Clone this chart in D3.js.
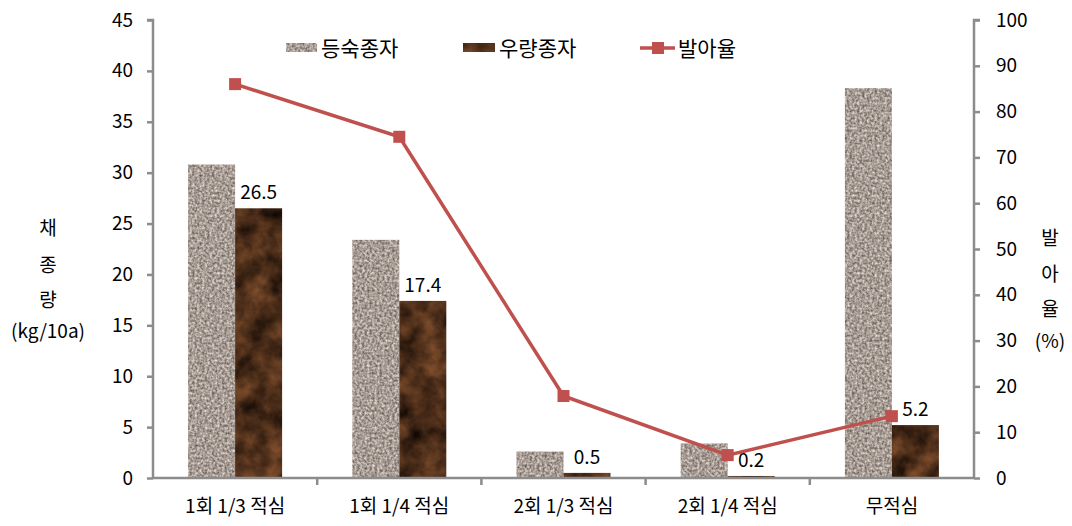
<!DOCTYPE html>
<html><head><meta charset="utf-8">
<script src="https://d3js.org/d3.v7.min.js"></script>
<style>
body{margin:0;background:#fff;}
text{font-family:"Noto Sans CJK KR","Noto Sans",sans-serif;fill:#000;}
</style></head>
<body>
<svg id="c" width="1072" height="526"></svg>
<script>
const categories = ["1회 1/3 적심","1회 1/4 적심","2회 1/3 적심","2회 1/4 적심","무적심"];
const ripeSeed = [30.8, 23.4, 2.6, 3.4, 38.3];      // 등숙종자
const goodSeed = [26.5, 17.4, 0.5, 0.2, 5.2];       // 우량종자
const germRate = [86.0, 74.5, 17.9, 5.0, 13.5];     // 발아율
const leftTicks = [0,5,10,15,20,25,30,35,40,45];
const rightTicks = [0,10,20,30,40,50,60,70,80,90,100];
const seriesNames = ["등숙종자","우량종자","발아율"];

const svg = d3.select("#c");
const m = {l:153, r:974, t:20, b:478};
const defs = svg.append("defs");

function texture(id, freq, oct, seed, matrix){
  const f = defs.append("filter").attr("id",id).attr("x",0).attr("y",0).attr("width",1).attr("height",1)
    .attr("color-interpolation-filters","sRGB");
  f.append("feTurbulence").attr("type","fractalNoise").attr("baseFrequency",freq).attr("numOctaves",oct).attr("seed",seed).attr("result","n");
  f.append("feColorMatrix").attr("in","n").attr("type","matrix").attr("values",matrix).attr("result","c");
  f.append("feComposite").attr("in","c").attr("in2","SourceGraphic").attr("operator","in");
}
texture("granite", 0.4, 2, 3,
  "0.75 0 0 0 0.28  0.75 0 0 0 0.24  0.75 0 0 0 0.21  0 0 0 0 1");
texture("marble", 0.045, 4, 7,
  "0.6 0 0 0 0.0  0.38 0 0 0 -0.01  0.22 0 0 0 -0.01  0 0 0 0 1");

const x0 = d3.scaleBand().domain(categories).range([m.l, m.r]);
const x1 = d3.scaleBand().domain([0,1]).range([0, 94]);
const yL = d3.scaleLinear().domain([0,45]).range([m.b, m.t]);
const yR = d3.scaleLinear().domain([0,100]).range([m.b, m.t]);
const grey = "#8c8c8c";
const fs = 19;

const g = svg.append("g");
categories.forEach((c,i)=>{
  const cx = x0(c) + x0.bandwidth()/2 - 47;
  [[ripeSeed[i],"granite","#a39690"],[goodSeed[i],"marble","#4a2c18"]].forEach((d,j)=>{
    g.append("rect").attr("x", cx + x1(j)).attr("width", x1.bandwidth())
      .attr("y", yL(d[0])).attr("height", yL(0)-yL(d[0]))
      .attr("fill", d[2]).attr("filter", `url(#${d[1]})`);
  });
  g.append("text").attr("x", cx + x1(1) + x1.bandwidth()/2).attr("y", yL(goodSeed[i]) - 9)
    .attr("text-anchor","middle").attr("font-size",fs).text(goodSeed[i]);
});

const axL = svg.append("g").attr("transform",`translate(${m.l},0)`)
  .call(d3.axisLeft(yL).tickValues(leftTicks).tickSize(6).tickPadding(14));
const axR = svg.append("g").attr("transform",`translate(${m.r},0)`)
  .call(d3.axisRight(yR).tickValues(rightTicks).tickSize(6).tickPadding(16));
const axB = svg.append("g").attr("transform",`translate(0,${m.b})`)
  .call(d3.axisBottom(x0).tickSize(0).tickPadding(22));
[axL,axR,axB].forEach(a=>{
  a.select(".domain").attr("stroke",grey).attr("stroke-width",2.5);
  a.selectAll(".tick line").attr("stroke",grey).attr("stroke-width",2.5);
  a.selectAll("text").attr("font-size",fs).attr("font-family",'"Noto Sans CJK KR",sans-serif').attr("fill","#000");
});
axL.select(".domain").attr("d",`M-6,${m.t}H0V${m.b}`);
axR.select(".domain").attr("d",`M6,${m.t}H0V${m.b}`);
axB.select(".domain").attr("d",`M${m.l},0H${m.r}`);
categories.slice(1).forEach(c=>{
  axB.append("line").attr("x1",x0(c)).attr("x2",x0(c)).attr("y1",0).attr("y2",7)
    .attr("stroke",grey).attr("stroke-width",2.5);
});

const red = "#c0504d";
const cxs = categories.map(c=>x0(c)+x0.bandwidth()/2);
const line = d3.line().x((d,i)=>cxs[i]).y(d=>yR(d));
svg.append("path").datum(germRate).attr("d",line).attr("fill","none").attr("stroke",red).attr("stroke-width",3.5);
svg.selectAll(".mk").data(germRate).enter().append("rect")
  .attr("x",(d,i)=>cxs[i]-6).attr("y",d=>yR(d)-6).attr("width",12).attr("height",12).attr("fill",red);

const lg = svg.append("g");
lg.append("rect").attr("x",286).attr("y",43).attr("width",31).attr("height",9).attr("fill","#a39690").attr("filter","url(#granite)");
lg.append("text").attr("x",321).attr("y",56).attr("font-size",21).text(seriesNames[0]);
lg.append("rect").attr("x",463).attr("y",43).attr("width",32).attr("height",9).attr("fill","#4a2c18").attr("filter","url(#marble)");
lg.append("text").attr("x",499).attr("y",56).attr("font-size",21).text(seriesNames[1]);
lg.append("line").attr("x1",640).attr("x2",675).attr("y1",48).attr("y2",48).attr("stroke",red).attr("stroke-width",3.5);
lg.append("rect").attr("x",652).attr("y",42).attr("width",12).attr("height",12).attr("fill",red);
lg.append("text").attr("x",678).attr("y",56).attr("font-size",21).text(seriesNames[2]);

[["채",230],["종",267],["량",302],["(kg/10a)",333]].forEach(d=>{
  svg.append("text").attr("x",48).attr("y",d[1]).attr("text-anchor","middle").attr("dominant-baseline","middle").attr("font-size",fs).text(d[0]);
});
[["발",240],["아",276],["율",311],["(%)",343]].forEach(d=>{
  svg.append("text").attr("x",1050).attr("y",d[1]).attr("text-anchor","middle").attr("dominant-baseline","middle").attr("font-size",fs).text(d[0]);
});
</script>
</body></html>
